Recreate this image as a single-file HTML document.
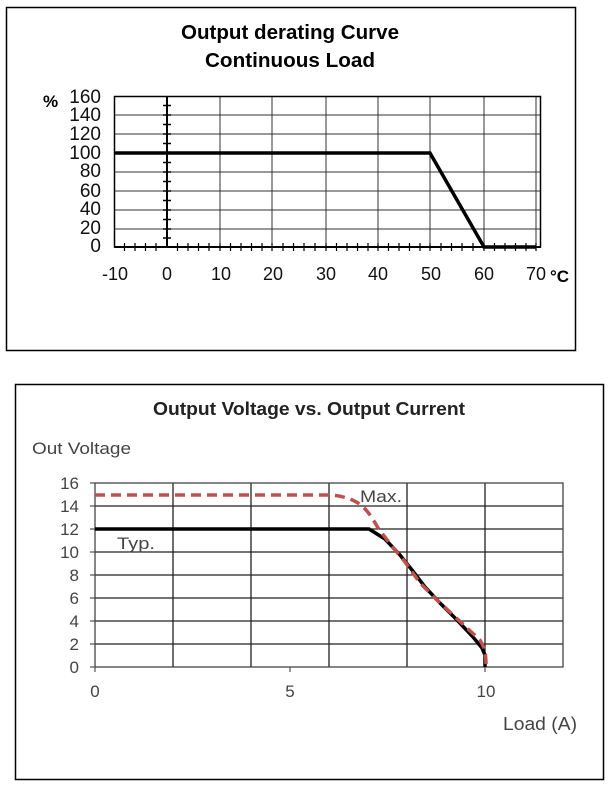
<!DOCTYPE html>
<html><head><meta charset="utf-8"><style>
body{margin:0;background:#fff;width:611px;height:788px;overflow:hidden}
svg{display:block}
</style></head><body>
<svg width="611" height="788" viewBox="0 0 611 788" xmlns="http://www.w3.org/2000/svg" font-family="Liberation Sans, Arial, sans-serif">
<!-- Chart 1 -->
<rect x="6.5" y="7.5" width="569" height="343" fill="#fff" stroke="#000" stroke-width="1.5"/>
<text x="290" y="39" font-size="20" font-weight="bold" text-anchor="middle" textLength="218" lengthAdjust="spacingAndGlyphs">Output derating Curve</text>
<text x="290" y="67" font-size="20" font-weight="bold" text-anchor="middle" textLength="170" lengthAdjust="spacingAndGlyphs">Continuous Load</text>
<g stroke="#333" stroke-width="1">
<line x1="114" y1="115" x2="541" y2="115"/><line x1="114" y1="134" x2="541" y2="134"/>
<line x1="114" y1="172" x2="541" y2="172"/><line x1="114" y1="191" x2="541" y2="191"/>
<line x1="114" y1="210" x2="541" y2="210"/><line x1="114" y1="229" x2="541" y2="229"/>
<line x1="220" y1="96" x2="220" y2="247"/><line x1="272" y1="96" x2="272" y2="247"/>
<line x1="326" y1="96" x2="326" y2="247"/><line x1="378" y1="96" x2="378" y2="247"/>
<line x1="430" y1="96" x2="430" y2="247"/><line x1="484" y1="96" x2="484" y2="247"/>
<line x1="536" y1="96" x2="536" y2="247"/>
</g>
<rect x="114.5" y="96.5" width="426" height="150.5" fill="none" stroke="#000" stroke-width="1.5"/>
<line x1="167" y1="96" x2="167" y2="248" stroke="#000" stroke-width="2"/>
<line x1="114" y1="247" x2="541" y2="247" stroke="#000" stroke-width="2"/>
<g stroke="#000" stroke-width="1.5">
<line x1="163" y1="105.5" x2="171" y2="105.5"/><line x1="163" y1="115" x2="171" y2="115"/><line x1="163" y1="124.5" x2="171" y2="124.5"/><line x1="163" y1="134" x2="171" y2="134"/><line x1="163" y1="143.5" x2="171" y2="143.5"/><line x1="163" y1="162.5" x2="171" y2="162.5"/><line x1="163" y1="172" x2="171" y2="172"/><line x1="163" y1="181.5" x2="171" y2="181.5"/><line x1="163" y1="191" x2="171" y2="191"/><line x1="163" y1="200.5" x2="171" y2="200.5"/><line x1="163" y1="210" x2="171" y2="210"/><line x1="163" y1="219.5" x2="171" y2="219.5"/><line x1="163" y1="229" x2="171" y2="229"/><line x1="163" y1="238" x2="171" y2="238"/>
</g>
<g stroke="#000" stroke-width="1.2">
<path d="M124.5 243v8M135 243v8M145.5 243v8M156 243v8M177.5 243v8M188 243v8M198.5 243v8M209 243v8M230.5 243v8M241 243v8M251.5 243v8M262 243v8M283 243v8M293.5 243v8M304 243v8M315 243v8M336.5 243v8M347 243v8M357.5 243v8M368 243v8M388.5 243v8M399 243v8M409.5 243v8M420 243v8M441 243v8M451.5 243v8M462 243v8M473 243v8M494.5 243v8M505 243v8M515.5 243v8M526 243v8M220 243v8M272 243v8M326 243v8M378 243v8M430 243v8M484 243v8M536 243v8"/>
</g>
<polyline points="114,153 430,153 484,247 536,247" fill="none" stroke="#000" stroke-width="3.5"/>
<g font-size="19" fill="#111" text-anchor="end">
<text x="101" y="103">160</text><text x="101" y="121">140</text><text x="101" y="140">120</text><text x="101" y="159">100</text><text x="101" y="177">80</text><text x="101" y="197">60</text><text x="101" y="215">40</text><text x="101" y="234">20</text><text x="101" y="252">0</text>
</g>
<text x="43" y="107" font-size="17" font-weight="bold">%</text>
<g font-size="18" fill="#111" text-anchor="middle">
<text x="115" y="280">-10</text><text x="167" y="280">0</text><text x="221" y="280">10</text><text x="273" y="280">20</text><text x="326" y="280">30</text><text x="378" y="280">40</text><text x="431" y="280">50</text><text x="484" y="280">60</text><text x="536" y="280">70</text>
</g>
<text x="550" y="282" font-size="17" font-weight="bold">°C</text>

<!-- Chart 2 -->
<rect x="15.5" y="384.5" width="588" height="395" fill="#fff" stroke="#000" stroke-width="1.5"/>
<text x="309" y="415" font-size="18" font-weight="bold" text-anchor="middle" fill="#222" textLength="312" lengthAdjust="spacingAndGlyphs">Output Voltage vs. Output Current</text>
<text x="32" y="454" font-size="17" fill="#444" textLength="99" lengthAdjust="spacingAndGlyphs">Out Voltage</text>
<g stroke="#222" stroke-width="1.3">
<line x1="95" y1="506" x2="563" y2="506"/><line x1="95" y1="529" x2="563" y2="529"/><line x1="95" y1="552" x2="563" y2="552"/><line x1="95" y1="575" x2="563" y2="575"/><line x1="95" y1="598" x2="563" y2="598"/><line x1="95" y1="621" x2="563" y2="621"/><line x1="95" y1="644" x2="563" y2="644"/>
<line x1="173" y1="483" x2="173" y2="667"/><line x1="251" y1="483" x2="251" y2="667"/><line x1="329" y1="483" x2="329" y2="667"/><line x1="407" y1="483" x2="407" y2="667"/><line x1="485" y1="483" x2="485" y2="667"/>
</g>
<rect x="95" y="483" width="468" height="184" fill="none" stroke="#444" stroke-width="1.3"/>
<g stroke="#555" stroke-width="1.2"><path d="M90 483h5M90 506h5M90 529h5M90 552h5M90 575h5M90 598h5M90 621h5M90 644h5M90 667h5M95 667v5M290 667v5M485 667v5"/></g>
<g font-size="17" fill="#444" text-anchor="end">
<text x="79" y="489">16</text><text x="79" y="512">14</text><text x="79" y="535">12</text><text x="79" y="558">10</text><text x="79" y="581">8</text><text x="79" y="604">6</text><text x="79" y="627">4</text><text x="79" y="650">2</text><text x="79" y="673">0</text>
</g>
<g font-size="17" fill="#444" text-anchor="middle">
<text x="95" y="697">0</text><text x="290" y="697">5</text><text x="486" y="697">10</text>
</g>
<text x="503" y="730" font-size="18" fill="#444" textLength="74" lengthAdjust="spacingAndGlyphs">Load (A)</text>
<polyline points="95,529 369,529 385,539 400,555 412,570 425,587 440,603 457,620 473,637 482,648 485,655 485,667" fill="none" stroke="#000" stroke-width="3.5"/>
<path d="M95,495 L329,495 C338,495 350,498 358,503 C366,508 372,517 378,528 L391,545 L405,562 L420,583 L436,599 L452,614 L467,628 L480,640 C485,648 486,655 486,665" fill="none" stroke="#c0504d" stroke-width="3.5" stroke-dasharray="10,6"/>
<text x="360" y="502" font-size="17" fill="#444" textLength="42" lengthAdjust="spacingAndGlyphs">Max.</text>
<text x="117" y="549" font-size="17" fill="#444" textLength="38" lengthAdjust="spacingAndGlyphs">Typ.</text>
</svg>
</body></html>
